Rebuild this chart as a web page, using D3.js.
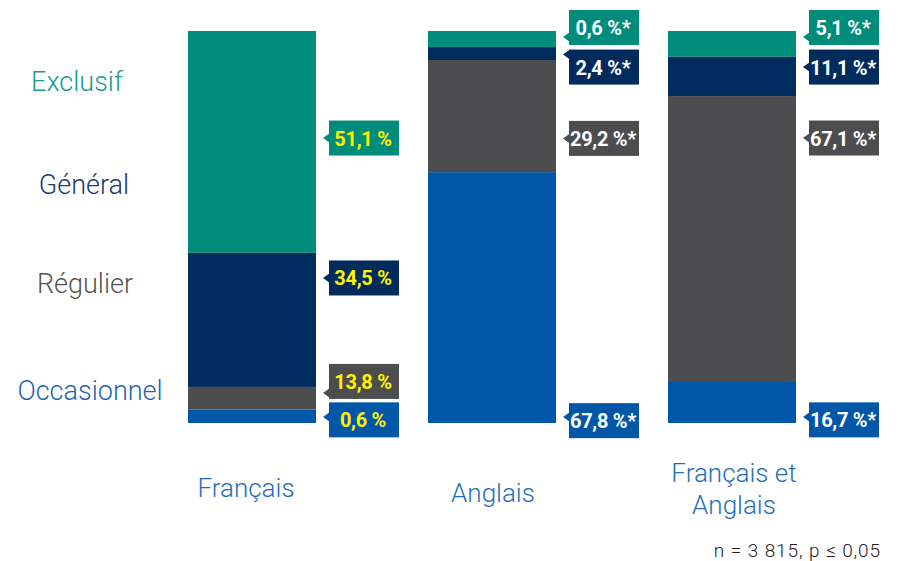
<!DOCTYPE html>
<html>
<head>
<meta charset="utf-8">
<script src="https://cdn.jsdelivr.net/npm/d3@7"></script>
<style>
  body { margin: 0; background: #fff; }
  svg { display: block; }
</style>
</head>
<body>
<script>
// groups (bars) and series (stack segments, bottom to top)
var groups = ['Français', 'Anglais', 'Français et Anglais'];
var groupLines = [['Français'], ['Anglais'], ['Français et', 'Anglais']];
var seriesNames = ['Occasionnel', 'Régulier', 'Général', 'Exclusif'];

// segment heights as drawn in the picture (% of bar)
var occasionnel = [3.4, 64.0, 10.7];
var regulier = [5.8, 28.6, 72.7];
var general = [34.2, 3.3, 10.0];
var exclusif = [56.6, 4.1, 6.6];

// value labels printed beside the bars
var occasionnelLbl = ['0,6 %', '67,8 %*', '16,7 %*'];
var regulierLbl = ['13,8 %', '29,2 %*', '67,1 %*'];
var generalLbl = ['34,5 %', '2,4 %*', '11,1 %*'];
var exclusifLbl = ['51,1 %', '0,6 %*', '5,1 %*'];

// where each label box sits on the 0-100 axis
var occasionnelAt = [0.8, 0.6, 0.8];
var regulierAt = [10.6, 72.6, 72.7];
var generalAt = [37.0, 90.8, 90.8];
var exclusifAt = [72.7, 100.9, 100.9];

var footnote = 'n = 3 815, p \u2264 0,05';

var colors = { 'Occasionnel': '#0057a8', 'Régulier': '#4d4d4f', 'Général': '#002b5c', 'Exclusif': '#008c7a' };
var legendColors = { 'Occasionnel': '#1f66b0', 'Régulier': '#555555', 'Général': '#1b3a6b', 'Exclusif': '#1a9a88' };
// left-hand names: centre x and baseline, bottom to top
var legendX = [90, 85, 84, 77];
var legendY = [400, 293, 194, 91];
var groupDx = [-6, 1, 2];

var values = [occasionnel, regulier, general, exclusif];
var labels = [occasionnelLbl, regulierLbl, generalLbl, exclusifLbl];
var labelAt = [occasionnelAt, regulierAt, generalAt, exclusifAt];

// table for d3.stack
var table = groups.map(function (g, i) {
    var row = { group: g };
    seriesNames.forEach(function (s, j) { row[s] = values[j][i]; });
    return row;
});

var W = 898, H = 561;
var svg = d3.select('body').append('svg')
    .attr('width', W)
    .attr('height', H);

//scales
var x = d3.scaleBand().domain(groups).range([188, 796]).paddingInner(112 / 240).paddingOuter(0);
var y = d3.scaleLinear().domain([0, 100]).range([423, 31]);

var stacked = d3.stack().keys(seriesNames)(table);

//bars
svg.selectAll('g.series')
    .data(stacked)
    .enter().append('g')
        .attr('class', 'series')
        .attr('fill', function (d) { return colors[d.key]; })
    .selectAll('rect')
    .data(function (d) { return d; })
    .enter().append('rect')
        .attr('x', function (d) { return x(d.data.group); })
        .attr('y', function (d) { return y(d[1]); })
        .attr('width', x.bandwidth())
        .attr('height', function (d) { return y(d[0]) - y(d[1]); });

//value labels with pointer
var boxW = 70, boxH = 35, gap = 13, tip = 6;
stacked.forEach(function (layer, j) {
    layer.forEach(function (seg, i) {
        var left = x(groups[i]) + x.bandwidth() + gap;
        var mid = y(labelAt[j][i]);
        var segTop = y(seg[1]), segBot = y(seg[0]);
        var py = Math.max(segTop + 6, Math.min(segBot - 6, mid));
        py = Math.max(mid - boxH / 2 + 5, Math.min(mid + boxH / 2 - 5, py));
        var g = svg.append('g');
        g.append('path')
            .attr('d', 'M' + (left - tip) + ',' + py + 'L' + (left + 1) + ',' + (py - 5) + 'L' + (left + 1) + ',' + (py + 5) + 'Z')
            .attr('fill', colors[seriesNames[j]]);
        g.append('rect')
            .attr('x', left)
            .attr('y', mid - boxH / 2)
            .attr('width', boxW)
            .attr('height', boxH)
            .attr('fill', colors[seriesNames[j]]);
        g.append('text')
            .attr('x', left + boxW / 2 - 1)
            .attr('y', mid + 7.5)
            .attr('text-anchor', 'middle')
            .attr('font-family', 'Roboto, sans-serif')
            .attr('font-weight', 'bold')
            .attr('font-size', '20px')
            .attr('letter-spacing', '-0.3px')
            .attr('fill', i === 0 ? '#fff200' : '#ffffff')
            .text(labels[j][i]);
    });
});

//series names on the left
svg.selectAll('text.legend')
    .data(seriesNames)
    .enter().append('text')
        .attr('class', 'legend')
        .attr('x', function (d, i) { return legendX[i]; })
        .attr('y', function (d, i) { return legendY[i]; })
        .attr('text-anchor', 'middle')
        .attr('font-family', 'Roboto, sans-serif')
        .attr('font-weight', 300)
        .attr('font-size', '27px')
        .attr('fill', function (d) { return legendColors[d]; })
        .text(function (d) { return d; });

//group names under the bars
svg.selectAll('text.group')
    .data(groups)
    .enter().append('text')
        .attr('class', 'group')
        .attr('y', function (d, i) { return groupLines[i].length > 1 ? 482 : (i === 0 ? 497 : 502); })
        .attr('text-anchor', 'middle')
        .attr('font-family', 'Roboto, sans-serif')
        .attr('font-weight', 300)
        .attr('font-size', '26px')
        .attr('fill', '#1f6fb7')
    .selectAll('tspan')
    .data(function (d, i) { return groupLines[i].map(function (t) { return { t: t, i: i }; }); })
    .enter().append('tspan')
        .attr('x', function (d) { return x(groups[d.i]) + x.bandwidth() / 2 + groupDx[d.i]; })
        .attr('dy', function (d, k) { return k === 0 ? 0 : 32; })
        .text(function (d) { return d.t; });

//footnote
svg.append('text')
    .attr('x', 881)
    .attr('y', 557)
    .attr('text-anchor', 'end')
    .attr('font-family', 'Roboto, sans-serif')
    .attr('font-weight', 300)
    .attr('font-size', '19px')
    .attr('letter-spacing', '0.9px')
    .attr('fill', '#222')
    .text(footnote);
</script>
</body>
</html>
